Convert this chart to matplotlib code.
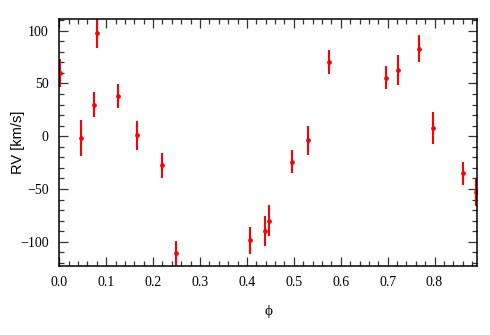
import matplotlib as mpl
mpl.use('Agg')
from matplotlib import pyplot as plt
from matplotlib.ticker import MultipleLocator
import numpy as np

mpl.rc('xtick', labelsize=10, direction='in', top=True)
mpl.rc('ytick', labelsize=10, direction='in', right=True)
mpl.rc('mathtext', default='regular')

# radial velocity curve, folded on phase
phase = [0.001, 0.046, 0.074, 0.080, 0.1245, 0.165, 0.219, 0.248, 0.4066, 0.4386,
         0.447, 0.4962, 0.531, 0.575, 0.6966, 0.722, 0.7676, 0.7968, 0.861, 0.8885]
rv = [60, -2, 30, 98, 38, 1, -27.5, -111, -98.7, -90,
      -80, -24, -4, 70, 55.6, 62.6, 83, 7.6, -35, -53]
rv_err = [13, 17, 12, 14, 11.5, 13.6, 12, 12, 13, 14.5,
          15, 11, 14, 11.5, 11, 14.5, 12.6, 15, 11, 13]

fig = plt.figure(figsize=(4.9, 3.35), dpi=100)
ax = fig.add_axes([0.121, 0.206, 0.852, 0.737])

ax.errorbar(phase, rv, yerr=rv_err, fmt='o', color='#ff0000', ecolor='#ff0000',
            markersize=2.4, elinewidth=1.5, capsize=0, clip_on=True)

ax.set_xlim(0, 0.89)
ax.set_ylim(-123, 111)
ax.xaxis.set_major_locator(MultipleLocator(0.1))
ax.xaxis.set_minor_locator(MultipleLocator(0.02))
ax.yaxis.set_major_locator(MultipleLocator(50))
ax.yaxis.set_minor_locator(MultipleLocator(10))
ax.tick_params(which='major', length=6.5, width=0.9, color='#333333')
ax.tick_params(which='minor', length=3.8, width=0.9, color='#333333')
ax.tick_params(axis='y', which='major', pad=7.5)
ax.tick_params(axis='x', which='major', pad=7.5)
for s in ax.spines.values():
    s.set_linewidth(1.1)

ax.set_xticks(np.arange(0, 0.81, 0.1))
ax.set_xticklabels(['%.1f' % v for v in np.arange(0, 0.81, 0.1)], family='Liberation Serif')
ax.set_yticks([-100, -50, 0, 50, 100])
ax.set_yticklabels(['\u2212100', '\u221250', '0', '50', '100'], family='Liberation Serif')

ax.set_ylabel('RV [km/s]', family='Liberation Sans', fontsize=10.5)
ax.yaxis.set_label_coords(-0.082, 0.5)
ax.set_xlabel('\u03d5', family='Liberation Serif', fontsize=11, labelpad=11)

plt.savefig('out.png', dpi=100)
